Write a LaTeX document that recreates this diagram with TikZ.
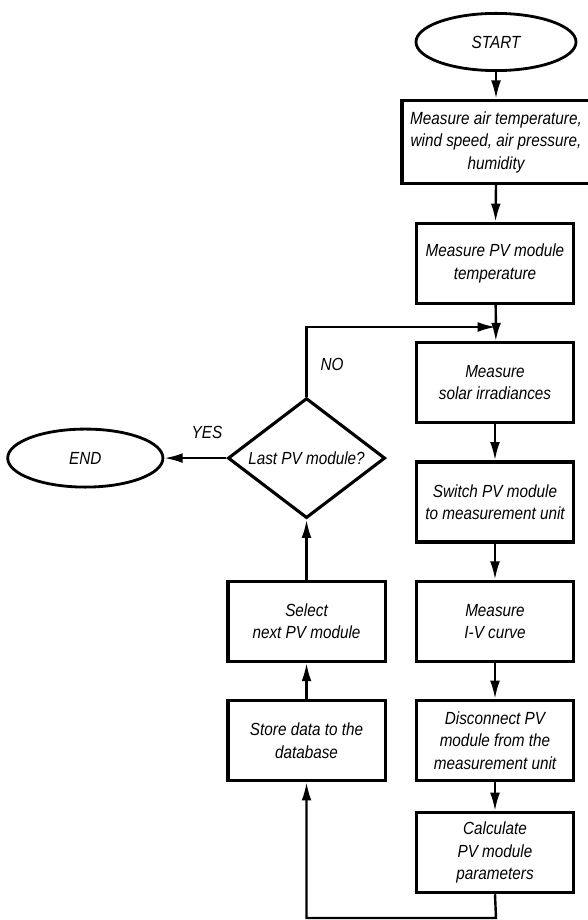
\documentclass[tikz,border=0pt]{standalone}
\usepackage{fontspec}
\setmainfont{Liberation Sans}[FakeStretch=0.87]
\usetikzlibrary{arrows.meta}
\usetikzlibrary{positioning}
\usetikzlibrary{shapes.geometric}

\tikzset{
  block/.style={draw, line width=2.3pt, minimum width=3.93cm, minimum height=2cm,
    inner sep=1pt, align=center},
  term/.style={draw, ellipse, line width=2pt, minimum width=4.0cm,
    minimum height=1.43cm, inner sep=0pt},
  decide/.style={draw, diamond, aspect=1.3, line width=2.2pt, minimum width=3.93cm,
    minimum height=3.0cm, inner sep=0pt},
  flow/.style={line width=1.7pt, -{Latex[length=13pt,width=7pt]}},
  wire/.style={line width=1.7pt},
}

\begin{document}
\begin{tikzpicture}[x=0.025cm, y=-0.025cm, node distance=0.9cm,
    font=\fontsize{12.5}{16}\selectfont\itshape]
  \useasboundingbox (0,0) rectangle (587,920);

  % main column
  \node[term] (start) at (496,42) {START};
  \node[block, minimum width=4.7cm, minimum height=2.08cm] (air) at (496,142)
    {Measure air temperature,\\ wind speed, air pressure,\\ humidity};
  \node[block] (temp) at (495,263.5) {Measure PV module\\ temperature};
  \node[block] (irr) [below=of temp] {Measure\\ solar irradiances};
  \node[block] (switch) [below=of irr] {Switch PV module\\ to measurement unit};
  \node[block] (iv) [below=of switch] {Measure\\ I-V curve};
  \node[block] (disc) [below=of iv] {Disconnect PV\\ module from the\\ measurement unit};
  \node[block] (calc) [below=0.72cm of disc] {Calculate\\ PV module\\ parameters};

  % return column
  \node[block] (store) [left=0.7cm of disc] {Store data to the\\ database};
  \node[block] (select) [above=of store] {Select\\ next PV module};
  \node[decide] (last) [above=1.5cm of select] {Last PV module?};
  \node[term, minimum width=3.88cm, minimum height=1.45cm] (end) [left=1.55cm of last] {END};

  \coordinate (join) at (496,327);
  \coordinate (bottom) at (496,918);

  \node (no) at (332,364) {NO};
  \node (yes) at (207,432) {YES};

  \draw[flow] (start) -- (start |- air.north);
  \draw[flow] (air.south -| start) -- (temp);
  \draw[wire] (temp) -- (join);
  \draw[flow] (join) -- (irr);
  \draw[flow] (irr) -- (switch);
  \draw[flow] (switch) -- (iv);
  \draw[flow] (iv) -- (disc);
  \draw[flow] (disc) -- (calc);
  \draw[flow] (calc.south) -- (bottom) -| (store.south);
  \draw[flow] (store) -- (select);
  \draw[flow] (select) -- (last.south);
  \draw[flow] (last.west) -- (end.east); % YES
  \draw[flow] (last.north) |- (join); % NO
\end{tikzpicture}
\end{document}
